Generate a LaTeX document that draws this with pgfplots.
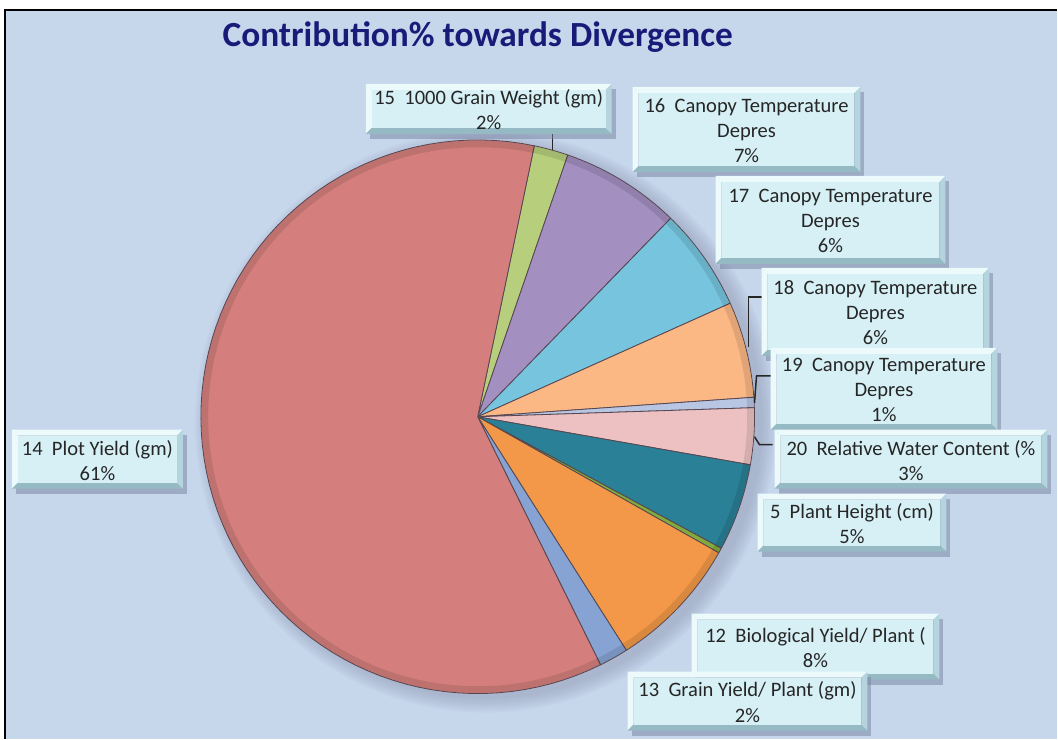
\documentclass[border=0pt]{standalone}
\usepackage{pgfplots}
\pgfplotsset{compat=1.18}
\usepackage{pgfplotstable}
\usepackage{fontspec}
\setmainfont{Carlito}
\newfontfamily\lblfont{Carlito}

% slice shares in percent, clockwise from the top
\pgfplotstableread{
id value
15 2.0
16 7.0
17 6.0
18 5.6
19 0.6
20 3.3
5 5.1
0 0.3
12 7.8
13 1.7
14 60.6
}\pietable

\definecolor{bgc}{RGB}{198,214,235}
\definecolor{titlec}{RGB}{26,26,120}
\definecolor{textc}{RGB}{38,38,38}
\definecolor{pieedge}{RGB}{85,70,80}
\definecolor{pc0}{RGB}{183,207,125}
\definecolor{pc1}{RGB}{163,143,192}
\definecolor{pc2}{RGB}{118,196,222}
\definecolor{pc3}{RGB}{251,183,132}
\definecolor{pc4}{RGB}{184,198,228}
\definecolor{pc5}{RGB}{237,193,193}
\definecolor{pc6}{RGB}{42,128,150}
\definecolor{pc7}{RGB}{130,170,60}
\definecolor{pc8}{RGB}{242,152,72}
\definecolor{pc9}{RGB}{134,163,212}
\definecolor{pc10}{RGB}{212,127,125}
\definecolor{boxface}{RGB}{214,240,246}
\definecolor{bevlight}{RGB}{236,250,252}
\definecolor{bevdark}{RGB}{150,186,196}
\definecolor{bevmid}{RGB}{180,212,222}
\definecolor{shadowc}{RGB}{120,130,160}

% bevelled label box: x1 y1 x2 y2 text (pixel coordinates)
\newcommand{\lbox}[5]{%
  \fill[shadowc, opacity=0.5] ({#1+4},{#2+5}) rectangle ({#3+4},{#4+5});
  \fill[bevlight] (#1,#2) -- (#3,#2) -- ({#3-6},{#2+6}) -- ({#1+6},{#2+6}) -- cycle;
  \fill[bevlight] (#1,#2) -- ({#1+6},{#2+6}) -- ({#1+6},{#4-6}) -- (#1,#4) -- cycle;
  \fill[bevdark] (#1,#4) -- ({#1+6},{#4-6}) -- ({#3-6},{#4-6}) -- (#3,#4) -- cycle;
  \fill[bevmid] (#3,#2) -- (#3,#4) -- ({#3-6},{#4-6}) -- ({#3-6},{#2+6}) -- cycle;
  \fill[boxface] ({#1+6},{#2+6}) rectangle ({#3-6},{#4-6});
  \node[align=center, inner sep=0pt, text=textc,
    font=\lblfont\fontsize{15.4}{18.8}\selectfont]
    at ({(#1+#3)/2},{(#2+#4)/2+1}) {#5};
}

\begin{document}
\begin{tikzpicture}
\begin{axis}[
  x=0.75pt, y=0.75pt, y dir=reverse,
  xmin=0, xmax=1058, ymin=0, ymax=739,
  hide axis, clip=false,
]
% page and chart area
\fill[white] (0,0) rectangle (1058,739);
\fill[bgc] (5,10) rectangle (1058,739);
\draw[black, line width=1pt] (5,739) -- (5,10) -- (1058,10);

\node[font=\bfseries\fontsize{26.5}{30}\selectfont, text=titlec]
  at (478,37) {Contribution\% towards Divergence};

% soft shadow round the pie
\pgfplotsinvokeforeach{0,2,...,14}{
  \fill[shadowc, opacity=0.05] (486,422) circle[radius={277+#1}];
}

% pie slices
\def\startang{78.2}
\pgfplotsforeachungrouped \i in {0,...,10}{
  \pgfplotstablegetelem{\i}{value}\of\pietable
  \pgfmathsetmacro\endang{\startang-3.6*\pgfplotsretval}
  \edef\temp{\noexpand\addplot[fill=pc\i, draw=pieedge, line width=0.6pt,
    line join=round, domain=\endang:\startang, samples=80]
    ({478+277*cos(x)},{417-277*sin(x)}) -- (478,417) -- cycle;}
  \temp
  \global\let\startang\endang
}
\draw[black, opacity=0.10, line width=5pt] (478,417) circle[radius=273];

% leader lines
\draw[textc, line width=1.1pt] (553,134) -- (553,150);
\draw[textc, line width=1.1pt] (763,297) -- (749,297) -- (749,347);
\draw[textc, line width=1.1pt] (772,376) -- (757,376) -- (755,403);
\draw[textc, line width=1.1pt] (773,445) -- (760,445) -- (755,437);

% data labels
\lbox{366}{84}{612}{134}{15\ \ 1000 Grain Weight (gm)\\2\%}
\lbox{633}{87}{861}{172}{16\ \ Canopy Temperature\\Depres\\7\%}
\lbox{716}{176}{946}{264}{17\ \ Canopy Temperature\\Depres\\6\%}
\lbox{762}{268}{990}{356}{18\ \ Canopy Temperature\\Depres\\6\%}
\lbox{771}{348}{998}{430}{19\ \ Canopy Temperature\\Depres\\1\%}
\lbox{775}{430}{1048}{489}{20\ \ Relative Water Content (\%\\3\%}
\lbox{758}{494}{947}{552}{5\ \ Plant Height (cm)\\5\%}
\lbox{692}{614}{940}{680}{12\ \ Biological Yield/ Plant (\\8\%}
\lbox{628}{672}{868}{731}{13\ \ Grain Yield/ Plant (gm)\\2\%}
\lbox{12}{430}{183}{489}{14\ \ Plot Yield (gm)\\61\%}
\end{axis}
\end{tikzpicture}
\end{document}
